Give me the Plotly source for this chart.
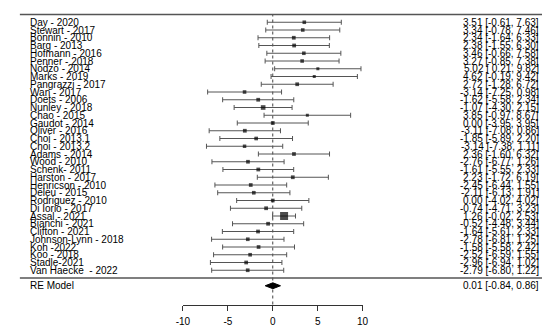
import plotly.graph_objects as go

studies = ["Day - 2020", "Stewart - 2017", "Bonnin - 2010", "Barg - 2013", "Hofmann - 2016",
           "Penner - 2018", "Nodzo - 2014", "Marks - 2019", "Pangrazzi - 2017", "Wan - 2017",
           "Doets - 2006", "Nunley - 2018", "Chao - 2015", "Gaudot - 2014", "Oliver - 2016",
           "Choi - 2013.1", "Choi - 2013.2", "Adams - 2014", "Wood - 2010", "Schenk- 2011",
           "Harston - 2017", "Henricson - 2010", "Deleu - 2015", "Rodriguez - 2010",
           "Di Iorio - 2017", "Assal - 2021", "Bianchi - 2021", "Clifton - 2021",
           "Johnson-Lynn - 2018", "Koh -2022", "Koo - 2018", "Stadle-2021", "Van Haecke  - 2022"]
estimates = [3.51, 3.34, 2.34, 2.38, 3.46, 3.27, 5.02, 4.62, 2.72, -3.14, -1.62, -1.07, 3.85,
             0.00, -3.11, -1.85, -3.14, 2.36, -2.76, -1.61, 2.23, -2.45, -2.11, 0.00, -0.74,
             1.26, -0.52, -1.64, -2.78, -1.58, -2.52, -2.96, -2.79]
lower = [-0.61, -0.78, -1.64, -1.55, -0.66, -0.85, 0.21, -0.19, -1.28, -7.25, -5.58, -4.30,
         -0.97, -3.95, -7.08, -5.89, -7.38, -1.60, -6.77, -5.55, -1.72, -6.44, -6.13, -4.02,
         -4.71, -0.02, -4.48, -5.61, -6.81, -5.58, -6.59, -6.94, -6.80]
upper = [7.63, 7.46, 6.33, 6.30, 7.58, 7.38, 9.82, 9.42, 6.72, 0.98, 2.34, 2.15, 8.67, 3.95,
         0.86, 2.20, 1.11, 6.32, 1.26, 2.33, 6.19, 1.55, 1.91, 4.02, 3.23, 2.53, 3.44, 2.33,
         1.25, 2.42, 1.55, 1.02, 1.22]
summary_label = "RE Model"
summary_est = 0.01
summary_lower = -0.84
summary_upper = 0.86
tick_values = [-10, -5, 0, 5, 10]

# ---- geometry ----
W, H = 550, 325
PX_PER_UNIT = 9.2
ZERO_PX = 264
XMIN = -ZERO_PX / PX_PER_UNIT
XMAX = (W - ZERO_PX) / PX_PER_UNIT
ROW_PX = 7.75
ROW0_PX = 270
YMAX = ROW0_PX / ROW_PX
YMIN = (ROW0_PX - H) / ROW_PX
AXIS_ROW = (ROW0_PX - 296.5) / ROW_PX

k = len(studies)
rows = [k - i for i in range(k)]
top_row = k + 1
sum_row = -1

# marker sizes from inverse-variance (random-effects) weights
tau2 = 2.4
ws = []
for lo, hi in zip(lower, upper):
    se = (hi - lo) / (2 * 1.96)
    ws.append(1.0 / (se ** 2 + tau2))
wmin, wmax = min(ws), max(ws)
sizes = [3 + 5 * (w - wmin) / (wmax - wmin) for w in ws]

FONT = "Liberation Sans, Arial, sans-serif"
fig = go.Figure()

# invisible trace for the bottom axis (drawn first so it stays underneath)
fig.add_trace(go.Scatter(x=[tick_values[0], tick_values[-1]], y=[AXIS_ROW, AXIS_ROW],
                         xaxis="x2", yaxis="y", mode="markers",
                         marker=dict(opacity=0), hoverinfo="skip", showlegend=False))

fig.add_trace(go.Scatter(
    x=estimates, y=rows, mode="markers",
    marker=dict(symbol="square", size=sizes, color="black", line=dict(width=0)),
    error_x=dict(type="data", symmetric=False,
                 array=[u - e for u, e in zip(upper, estimates)],
                 arrayminus=[e - l for e, l in zip(estimates, lower)],
                 color="#555555", thickness=1, width=2.5),
    hoverinfo="skip", showlegend=False, cliponaxis=False))

h = 0.38
fig.add_trace(go.Scatter(
    x=[summary_lower, summary_est, summary_upper, summary_est, summary_lower],
    y=[sum_row, sum_row + h, sum_row, sum_row - h, sum_row],
    mode="lines", fill="toself", fillcolor="black",
    line=dict(color="black", width=1), hoverinfo="skip", showlegend=False))

# reference line and separators
fig.add_shape(type="line", xref="x", yref="y", x0=0, x1=0, y0=AXIS_ROW, y1=top_row,
              line=dict(color="#444444", width=1, dash="dot"), layer="below")
for r in (top_row, 0):
    fig.add_shape(type="line", xref="paper", yref="y", x0=5 / W, x1=548 / W, y0=r, y1=r,
                  line=dict(color="#555555", width=1.3))

def fmt(e, l, u):
    return f"{e:.2f} [{l:5.2f}, {u:.2f}]"

annos = []
for name, r, e, l, u in zip(studies, rows, estimates, lower, upper):
    annos.append(dict(x=13 / W, y=r, xref="paper", yref="y", text=name, showarrow=False,
                      xanchor="left", yanchor="middle", font=dict(size=10, family=FONT, color="black")))
    annos.append(dict(x=539 / W, y=r, xref="paper", yref="y", text=fmt(e, l, u), showarrow=False,
                      xanchor="right", yanchor="middle", font=dict(size=10, family=FONT, color="black")))
annos.append(dict(x=13 / W, y=sum_row, xref="paper", yref="y", text=summary_label, showarrow=False,
                  xanchor="left", yanchor="middle", font=dict(size=10, family=FONT, color="black")))
annos.append(dict(x=539 / W, y=sum_row, xref="paper", yref="y",
                  text=fmt(summary_est, summary_lower, summary_upper), showarrow=False,
                  xanchor="right", yanchor="middle", font=dict(size=10, family=FONT, color="black")))

fig.update_layout(
    width=W, height=H, autosize=False,
    margin=dict(l=0, r=0, t=0, b=0),
    paper_bgcolor="white", plot_bgcolor="rgba(0,0,0,0)",
    showlegend=False,
    xaxis=dict(range=[XMIN, XMAX], visible=False, fixedrange=True),
    yaxis=dict(range=[YMIN, YMAX], visible=False, fixedrange=True),
    xaxis2=dict(range=[tick_values[0], tick_values[-1]],
                domain=[(tick_values[0] - XMIN) / (XMAX - XMIN), (tick_values[-1] - XMIN) / (XMAX - XMIN)],
                anchor="free", position=(AXIS_ROW - YMIN) / (YMAX - YMIN),
                showline=True, linecolor="#333333", linewidth=1,
                ticks="outside", ticklen=5, tickcolor="#333333", tickwidth=1,
                ticklabelstandoff=2,
                tickvals=tick_values, ticktext=[str(v) for v in tick_values],
                tickfont=dict(size=10, family=FONT, color="black"),
                showgrid=False, zeroline=False, fixedrange=True),
    annotations=annos,
)

fig.write_html("out.html")
